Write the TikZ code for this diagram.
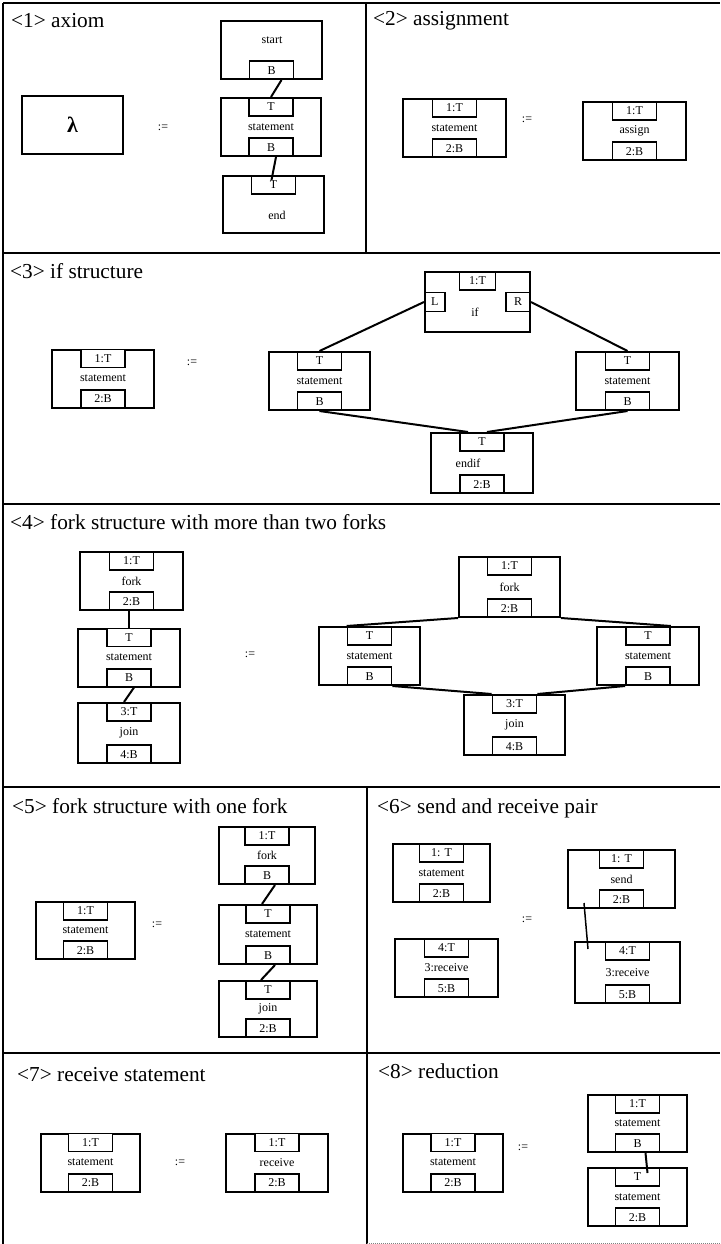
\documentclass[tikz,border=0pt]{standalone}
\usepackage{fontspec}
\setmainfont{Liberation Serif}
\usetikzlibrary{positioning}

\begin{document}
\begin{tikzpicture}[x=1pt, y=-1pt,
  box/.style={draw, line width=2pt, minimum width=102pt, minimum height=58pt,
              inner sep=0pt, font=\fontsize{12}{13}\selectfont},
  port/.style={draw, line width=1.7pt, fill=white, minimum width=44pt,
               minimum height=18pt, inner sep=0pt, font=\fontsize{12}{13}\selectfont},
  ttl/.style={anchor=base west, inner sep=0pt, font=\fontsize{21.3}{24}\selectfont},
  txt/.style={inner sep=0pt, font=\fontsize{12}{13}\selectfont},
  link/.style={line width=2pt},
  frame/.style={line width=2pt}]
  \useasboundingbox (0,0) rectangle (720,1244);
  % frame
  \draw[frame] (3,3) -- (720,3);
  \draw[frame] (3,3) -- (3,1244);
  \foreach \y in {253,504,787,1053}
    \draw[frame] (3,\y) -- (720,\y);
  \draw[frame] (366,3) -- (366,253);
  \draw[frame] (367,787) -- (367,1244);
  \draw[gray, densely dotted, line width=1pt] (367,1243) -- (720,1243);

  % <1> axiom
  \node[ttl] (t1) at (11,28) {<1> axiom};
  \node[box, minimum width=101pt] (lam) at (72.5,125) {\fontsize{22}{24}\selectfont\bfseries λ};
  \node[txt] (eq1) at (163,128) {:=};
  \node[box, minimum width=101pt] (st1) at (271.5,50) {};
  \node[txt] (st1n) at (272,40) {start};
  \node[port, anchor=south] (st1b) at (st1.south) {B};
  \node[box, minimum width=100pt] (sm1) at (271,127) {statement};
  \node[port, anchor=north] (sm1t) at (sm1.north) {T};
  \node[port, anchor=south] (sm1b) at (sm1.south) {B};
  \node[box, minimum width=101pt, minimum height=57pt] (en1) at (273.5,204.5) {};
  \node[txt] (en1n) at (277,215) {end};
  \node[port, anchor=north] (en1t) at (en1.north) {T};
  \draw[link] ([xshift=10pt]st1b.south) -- (sm1t.north);
  \draw[link] ([xshift=5pt]sm1b.south) -- ([xshift=-2pt,yshift=-5pt]en1t.north);

  % <2> assignment
  \node[ttl] (t2) at (373,26) {<2> assignment};
  \node[box, minimum width=103pt] (sm2) at (454.5,128) {statement};
  \node[port, anchor=north] (sm2t) at (sm2.north) {1:T};
  \node[port, anchor=south] (sm2b) at (sm2.south) {2:B};
  \node[txt] (eq2) at (527,120) {:=};
  \node[box, minimum width=103pt] (as2) at (634.5,131) {assign};
  \node[port, anchor=north] (as2t) at (as2.north) {1:T};
  \node[port, anchor=south] (as2b) at (as2.south) {2:B};

  % <3> if structure
  \node[ttl] (t3) at (10,278) {<3> if structure};
  \node[box] (sm3) at (103,378.5) {statement};
  \node[port, anchor=north] (sm3t) at (sm3.north) {1:T};
  \node[port, anchor=south] (sm3b) at (sm3.south) {2:B};
  \node[txt] (eq3) at (192,363) {:=};
  \node[box, minimum width=105pt, minimum height=60pt] (if3) at (477.5,302) {};
  \node[txt] (if3n) at (475,312) {if};
  \node[port, anchor=north, minimum width=36pt] (if3t) at (if3.north) {1:T};
  \node[port, anchor=west, minimum width=20pt, minimum height=19pt] (if3l) at (if3.west) {L};
  \node[port, anchor=east, minimum width=24pt, minimum height=19pt] (if3r) at (if3.east) {R};
  \node[box, minimum width=101pt] (sl3) at (319.5,381) {statement};
  \node[port, anchor=north] (sl3t) at (sl3.north) {T};
  \node[port, anchor=south] (sl3b) at (sl3.south) {B};
  \node[box, minimum width=103pt] (sr3) at (627.5,381) {statement};
  \node[port, anchor=north] (sr3t) at (sr3.north) {T};
  \node[port, anchor=south] (sr3b) at (sr3.south) {B};
  \node[box, minimum height=60pt] (ei3) at (482,463) {};
  \node[txt] (ei3n) at (468,463) {endif};
  \node[port, anchor=north] (ei3t) at (ei3.north) {T};
  \node[port, anchor=south] (ei3b) at (ei3.south) {2:B};
  \draw[link] (if3l.west) -- (sl3t.north);
  \draw[link] (if3r.east) -- (sr3t.north);
  \draw[link] (sl3b.south) -- ([xshift=-14pt]ei3t.north);
  \draw[link] (sr3b.south) -- ([xshift=5pt]ei3t.north);

  % <4> fork structure with more than two forks
  \node[ttl] (t4) at (10,529) {<4> fork structure with more than two forks};
  \node[box, minimum width=103pt] (fk4) at (131.5,581) {fork};
  \node[port, anchor=north] (fk4t) at (fk4.north) {1:T};
  \node[port, anchor=south] (fk4b) at (fk4.south) {2:B};
  \node[box] (sm4) at (129,657.5) {statement};
  \node[port, anchor=north] (sm4t) at (sm4.north) {T};
  \node[port, anchor=south] (sm4b) at (sm4.south) {B};
  \node[box, minimum height=60pt] (jn4) at (129,733) {join};
  \node[port, anchor=north] (jn4t) at (jn4.north) {3:T};
  \node[port, anchor=south] (jn4b) at (jn4.south) {4:B};
  \draw[link] (sm4t.north |- fk4b.south) -- (sm4t.north);
  \draw[link] ([xshift=5pt]sm4b.south) -- ([xshift=-5pt]jn4t.north);
  \node[txt] (eq4) at (250,655) {:=};
  \node[box, minimum width=101pt, minimum height=60pt] (fk4r) at (509.5,587) {fork};
  \node[port, anchor=north] (fk4rt) at (fk4r.north) {1:T};
  \node[port, anchor=south] (fk4rb) at (fk4r.south) {2:B};
  \node[box, minimum width=101pt] (sl4) at (369.5,656) {statement};
  \node[port, anchor=north] (sl4t) at (sl4.north) {T};
  \node[port, anchor=south] (sl4b) at (sl4.south) {B};
  \node[box] (sr4) at (648,656) {statement};
  \node[port, anchor=north] (sr4t) at (sr4.north) {T};
  \node[port, anchor=south] (sr4b) at (sr4.south) {B};
  \node[box, minimum width=101pt, minimum height=60pt] (jn4r) at (514.5,725) {join};
  \node[port, anchor=north] (jn4rt) at (jn4r.north) {3:T};
  \node[port, anchor=south] (jn4rb) at (jn4r.south) {4:B};
  \draw[link] (fk4r.south west) -- (sl4t.north west);
  \draw[link] (fk4r.south east) -- (sr4t.north east);
  \draw[link] (sl4b.south east) -- (jn4rt.north west);
  \draw[link] (sr4b.south west) -- (jn4rt.north east);

  % <5> fork structure with one fork
  \node[ttl] (t5) at (12,813) {<5> fork structure with one fork};
  \node[box, minimum width=99pt, minimum height=57pt] (sm5) at (85.5,930.5) {statement};
  \node[port, anchor=north] (sm5t) at (sm5.north) {1:T};
  \node[port, anchor=south] (sm5b) at (sm5.south) {2:B};
  \node[txt] (eq5) at (157,925) {:=};
  \node[box, minimum width=96pt, minimum height=57pt] (fk5) at (267,855.5) {fork};
  \node[port, anchor=north] (fk5t) at (fk5.north) {1:T};
  \node[port, anchor=south] (fk5b) at (fk5.south) {B};
  \node[box, minimum width=98pt, minimum height=59pt] (sm5r) at (268,934.5) {statement};
  \node[port, anchor=north] (sm5rt) at (sm5r.north) {T};
  \node[port, anchor=south] (sm5rb) at (sm5r.south) {B};
  \node[box, minimum width=98pt, minimum height=56pt] (jn5) at (268,1009) {join};
  \node[port, anchor=north] (jn5t) at (jn5.north) {T};
  \node[port, anchor=south] (jn5b) at (jn5.south) {2:B};
  \draw[link] ([xshift=8pt]fk5b.south) -- ([xshift=-6pt]sm5rt.north);
  \draw[link] ([xshift=7pt]sm5rb.south) -- ([xshift=-7pt]jn5t.north);

  % <6> send and receive pair
  \node[ttl] (t6) at (377,813) {<6> send and receive pair};
  \node[box, minimum width=97pt] (sm6) at (441.5,873) {statement};
  \node[port, anchor=north] (sm6t) at (sm6.north) {1: T};
  \node[port, anchor=south] (sm6b) at (sm6.south) {2:B};
  \node[box, minimum width=103pt] (rc6) at (446.5,968) {3:receive};
  \node[port, anchor=north] (rc6t) at (rc6.north) {4:T};
  \node[port, anchor=south] (rc6b) at (rc6.south) {5:B};
  \node[txt] (eq6) at (527,920) {:=};
  \node[box, minimum width=107pt] (sd6) at (621.5,879) {send};
  \node[port, anchor=north] (sd6t) at (sd6.north) {1: T};
  \node[port, anchor=south] (sd6b) at (sd6.south) {2:B};
  \node[box, minimum width=105pt, minimum height=61pt] (rc6r) at (627.5,972.5) {3:receive};
  \node[port, anchor=north] (rc6rt) at (rc6r.north) {4:T};
  \node[port, anchor=south] (rc6rb) at (rc6r.south) {5:B};
  \draw[link, line width=1.5pt] ([xshift=17pt,yshift=6pt]sd6.south west)
    -- ([xshift=14pt,yshift=-8pt]rc6r.north west);

  % <7> receive statement
  \node[ttl] (t7) at (17,1081) {<7> receive statement};
  \node[box, minimum width=99pt] (sm7) at (90.5,1162.5) {statement};
  \node[port, anchor=north] (sm7t) at (sm7.north) {1:T};
  \node[port, anchor=south] (sm7b) at (sm7.south) {2:B};
  \node[txt] (eq7) at (180,1163) {:=};
  \node[box] (rc7) at (277,1162.5) {receive};
  \node[port, anchor=north] (rc7t) at (rc7.north) {1:T};
  \node[port, anchor=south] (rc7b) at (rc7.south) {2:B};

  % <8> reduction
  \node[ttl] (t8) at (378,1078) {<8> reduction};
  \node[box, minimum width=100pt] (sm8) at (453,1162.5) {statement};
  \node[port, anchor=north] (sm8t) at (sm8.north) {1:T};
  \node[port, anchor=south] (sm8b) at (sm8.south) {2:B};
  \node[txt] (eq8) at (523,1148) {:=};
  \node[box, minimum width=99pt, minimum height=57pt] (su8) at (637.5,1123.5) {statement};
  \node[port, anchor=north] (su8t) at (su8.north) {1:T};
  \node[port, anchor=south] (su8b) at (su8.south) {B};
  \node[box, minimum width=99pt] (sd8) at (637.5,1197) {statement};
  \node[port, anchor=north] (sd8t) at (sd8.north) {T};
  \node[port, anchor=south] (sd8b) at (sd8.south) {2:B};
  \draw[link] ([xshift=8pt]su8b.south) -- ([xshift=10pt,yshift=-6pt]sd8t.north);
\end{tikzpicture}
\end{document}
